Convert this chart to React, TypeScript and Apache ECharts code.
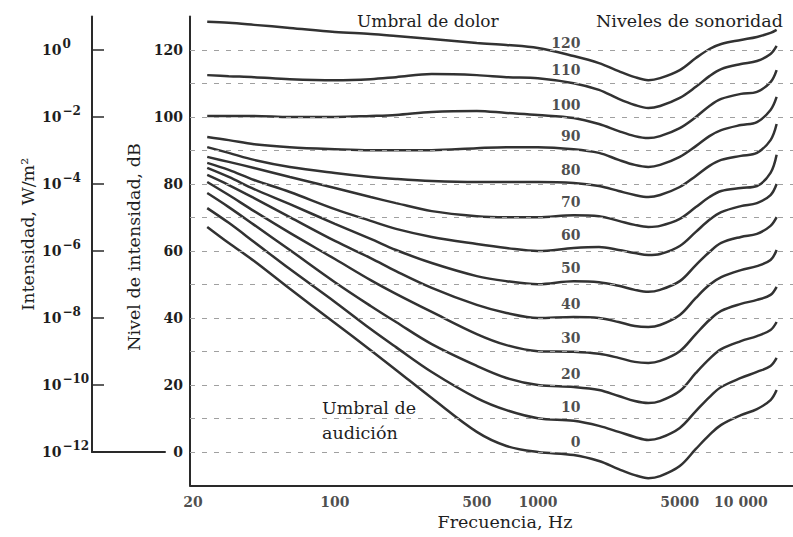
import React, { useEffect, useRef } from "react";
import * as echarts from "echarts";

// Frequencies (Hz) at which each equal-loudness contour was read
const freqs = [23.5, 30, 40, 60, 100, 150, 200, 300, 500, 700, 1000, 1500, 2000, 2500, 3000, 3500, 4000, 5000, 6000, 7000, 8000, 10000, 12000, 14000, 15000];

// Loudness levels (phon) of the contours
const phonLevels = [120, 110, 100, 90, 80, 70, 60, 50, 40, 30, 20, 10, 0];

// Intensity level (dB) of each contour at the frequencies above
const phon120 = [128.4, 128.1, 127.5, 126.6, 125.4, 124.8, 124.2, 123.3, 122.1, 121.5, 120.6, 118.2, 116.1, 113.7, 111.9, 111.0, 111.6, 114.0, 117.6, 120.3, 121.8, 123.0, 123.9, 125.1, 126.0];
const phon110 = [112.5, 112.2, 111.9, 111.3, 111.0, 111.3, 111.9, 112.8, 112.5, 111.9, 111.6, 110.1, 108.1, 105.4, 103.6, 102.7, 103.3, 105.7, 109.0, 112.2, 114.3, 115.8, 116.7, 118.8, 121.2];
const phon100 = [100.3, 100.3, 100.3, 100.0, 100.0, 100.3, 100.6, 101.5, 101.8, 101.2, 100.6, 99.7, 97.9, 95.8, 94.3, 93.7, 94.3, 96.7, 100.0, 103.3, 105.4, 106.9, 107.5, 110.4, 114.0];
const phon90 = [94.0, 93.1, 91.9, 91.0, 90.4, 90.1, 90.1, 90.1, 90.7, 91.0, 91.0, 90.4, 89.3, 87.2, 85.7, 85.1, 85.7, 88.1, 91.3, 94.3, 96.1, 97.6, 98.5, 102.1, 106.0];
const phon80 = [91.0, 89.3, 87.2, 85.1, 83.3, 82.1, 81.5, 80.9, 80.6, 80.6, 80.6, 80.3, 79.4, 77.9, 76.7, 76.1, 76.7, 79.1, 82.4, 85.4, 87.2, 88.4, 89.3, 93.1, 97.9];
const phon70 = [88.1, 86.6, 84.8, 82.1, 78.8, 76.1, 74.3, 71.9, 70.4, 70.1, 70.1, 70.7, 70.4, 69.0, 67.8, 67.2, 67.5, 69.6, 73.1, 76.1, 77.9, 78.8, 79.4, 83.3, 88.7];
const phon60 = [86.3, 84.2, 81.2, 77.6, 72.5, 69.0, 66.6, 64.2, 62.1, 60.9, 60.0, 60.9, 61.2, 60.3, 59.4, 58.8, 59.1, 61.5, 65.7, 69.3, 71.6, 73.4, 74.3, 76.7, 80.0];
const phon50 = [84.8, 82.1, 78.5, 74.0, 68.1, 63.6, 60.3, 56.4, 52.5, 51.0, 50.1, 51.0, 50.7, 49.6, 48.4, 47.8, 48.4, 51.0, 55.8, 59.7, 62.4, 64.2, 65.1, 67.5, 70.1];
const phon40 = [82.7, 79.7, 75.8, 70.1, 63.0, 57.9, 54.0, 49.0, 43.9, 41.5, 40.0, 40.3, 40.0, 38.8, 37.6, 37.3, 37.9, 40.9, 46.0, 49.9, 52.2, 54.3, 55.5, 57.3, 60.3];
const phon30 = [80.6, 76.7, 71.9, 65.4, 57.6, 51.3, 47.2, 41.8, 35.2, 31.9, 30.1, 29.9, 29.3, 28.1, 26.9, 26.6, 27.2, 30.1, 35.2, 39.4, 42.1, 44.2, 45.4, 46.9, 49.3];
const phon20 = [77.3, 73.1, 67.8, 60.3, 50.7, 43.6, 38.8, 32.2, 25.7, 22.1, 20.0, 19.4, 18.5, 16.7, 15.2, 14.6, 15.2, 18.2, 23.6, 27.8, 30.7, 33.1, 34.6, 36.4, 38.8];
const phon10 = [72.8, 68.4, 62.7, 54.6, 44.8, 36.7, 31.3, 23.9, 16.1, 12.5, 10.1, 9.3, 7.8, 6.0, 4.5, 3.6, 4.2, 7.2, 12.2, 16.4, 19.4, 22.1, 23.9, 25.7, 28.1];
const phon0 = [67.2, 62.4, 57.0, 48.7, 38.5, 30.4, 24.5, 16.1, 6.0, 1.8, 0.0, -0.9, -2.7, -5.1, -6.9, -7.8, -7.2, -4.2, 0.9, 5.1, 8.1, 11.0, 12.8, 15.5, 18.5];

const curves = [phon120, phon110, phon100, phon90, phon80, phon70, phon60, phon50, phon40, phon30, phon20, phon10, phon0];

// Axis ticks
const dbTicks = [0, 20, 40, 60, 80, 100, 120];
const intensityExponents = ["−12", "−10", "−8", "−6", "−4", "−2", "0"];
const freqTicks = [20, 100, 500, 1000, 5000, 10000];
const freqTickLabels = ["20", "100", "500", "1000", "5000", "10 000"];
const gridLevels = [0, 10, 20, 30, 40, 50, 60, 70, 80, 90, 100, 110, 120];

// where the contour labels sit (frequency of the contour point they follow)
const labelAnchorFreq = 1500;
const labelFreq = 1630;

export default function App() {
  const ref = useRef<HTMLDivElement>(null);

  useEffect(() => {
    if (!ref.current) return;
    const chart = echarts.init(ref.current, null, { renderer: "svg" });
    const font = "DejaVu Serif";
    const ink = "#1e1e1e";
    const anchorIdx = freqs.indexOf(labelAnchorFreq);
    const numStyle = { fontFamily: font, fontSize: 14, fontWeight: "bold" as const, color: ink };
    const nameStyle = { fontFamily: font, fontSize: 17.5, color: ink };

    const series: any[] = curves.map((vals, k) => ({
      type: "line",
      name: `${phonLevels[k]}`,
      xAxisIndex: 0,
      yAxisIndex: 0,
      data: freqs.map((f, i) => [f, vals[i]]),
      smooth: 0.35,
      symbol: "none",
      silent: true,
      lineStyle: { color: "#323232", width: 2.5 },
      z: 3,
      ...(k === 0
        ? {
            markLine: {
              silent: true,
              symbol: ["none", "none"],
              label: { show: false },
              lineStyle: { type: [5, 7], color: "#a0a0a0", width: 1 },
              data: gridLevels.map((v) => ({ yAxis: v })),
            },
          }
        : {}),
    }));

    series.push({
      type: "scatter",
      name: "phon labels",
      xAxisIndex: 0,
      yAxisIndex: 0,
      symbolSize: 1,
      silent: true,
      itemStyle: { color: "rgba(0,0,0,0)" },
      data: curves.map((vals, k) => ({ value: [labelFreq, vals[anchorIdx] + 4], name: String(phonLevels[k]) })),
      label: { show: true, position: "left", distance: 0, formatter: "{b}", ...numStyle },
      z: 5,
    });

    series.push({
      type: "scatter",
      name: "freq ticks",
      xAxisIndex: 0,
      yAxisIndex: 0,
      symbolSize: 1,
      silent: true,
      clip: false,
      itemStyle: { color: "rgba(0,0,0,0)" },
      data: freqTicks.map((f, i) => ({ value: [f, -10], name: freqTickLabels[i] })),
      label: { show: true, position: "bottom", distance: 9, formatter: "{b}", ...numStyle },
    });

    const axisLine = { show: true, onZero: false, lineStyle: { color: "#2a2a2a", width: 2 } };

    chart.setOption({
      animation: false,
      backgroundColor: "#ffffff",
      textStyle: { fontFamily: font },
      grid: [
        { left: 190, right: 0, top: 16.5, bottom: 51.5 },
        { left: 92, width: 73, top: 16.5, height: 435.5 },
      ],
      xAxis: [
        {
          gridIndex: 0,
          type: "log",
          logBase: 10,
          min: 19.33,
          max: 18060,
          axisLine,
          axisTick: { show: false },
          axisLabel: { show: false },
          splitLine: { show: false },
          name: "Frecuencia, Hz",
          nameLocation: "middle",
          nameGap: 27,
          nameTextStyle: { ...nameStyle, padding: [0, 0, 0, 27] },
        },
        {
          gridIndex: 1,
          type: "value",
          min: 0,
          max: 1,
          axisLine,
          axisTick: { show: false },
          axisLabel: { show: false },
          splitLine: { show: false },
        },
      ],
      yAxis: [
        {
          gridIndex: 0,
          type: "value",
          min: -10,
          max: 130,
          axisLine,
          axisTick: { show: false },
          splitLine: { show: false },
          axisLabel: { customValues: dbTicks, margin: 7, ...numStyle },
          name: "Nivel de intensidad, dB",
          nameLocation: "middle",
          nameGap: 46,
          nameTextStyle: { ...nameStyle, padding: [0, 0, 0, 8] },
        },
        {
          gridIndex: 1,
          type: "value",
          min: 0,
          max: 130,
          axisLine,
          splitLine: { show: false },
          axisTick: {
            show: true,
            inside: true,
            length: 12,
            customValues: dbTicks,
            lineStyle: { color: "#2a2a2a", width: 1.5 },
          },
          axisLabel: {
            customValues: dbTicks,
            formatter: (v: number) => `{b|10}{s|${intensityExponents[dbTicks.indexOf(v)]}}`,
            align: "left",
            margin: 50,
            rich: {
              b: { fontFamily: font, fontSize: 14, fontWeight: "bold", color: ink, lineHeight: 24 },
              s: { fontFamily: font, fontSize: 12, fontWeight: "bold", color: ink, lineHeight: 13, verticalAlign: "top", padding: [0, 0, 0, 1] },
            },
          },
          name: "Intensidad, W/m²",
          nameLocation: "middle",
          nameGap: 55,
          nameTextStyle: nameStyle,
        },
      ],
      graphic: [
        {
          type: "text",
          left: 357,
          top: 12,
          style: { text: "Umbral de dolor", fontFamily: font, fontSize: 17, fill: ink },
        },
        {
          type: "text",
          left: 596,
          top: 12,
          style: { text: "Niveles de sonoridad", fontFamily: font, fontSize: 17.5, fill: ink },
        },
        {
          type: "text",
          left: 322,
          top: 395,
          style: { text: "Umbral de\naudición", fontFamily: font, fontSize: 17.5, lineHeight: 25, fill: ink },
        },
      ],
      series,
    });

    return () => chart.dispose();
  }, []);

  return (
    <div
      ref={ref}
      style={{ position: "absolute", left: 0, top: 0, width: 793, height: 537, background: "#fff" }}
    />
  );
}
